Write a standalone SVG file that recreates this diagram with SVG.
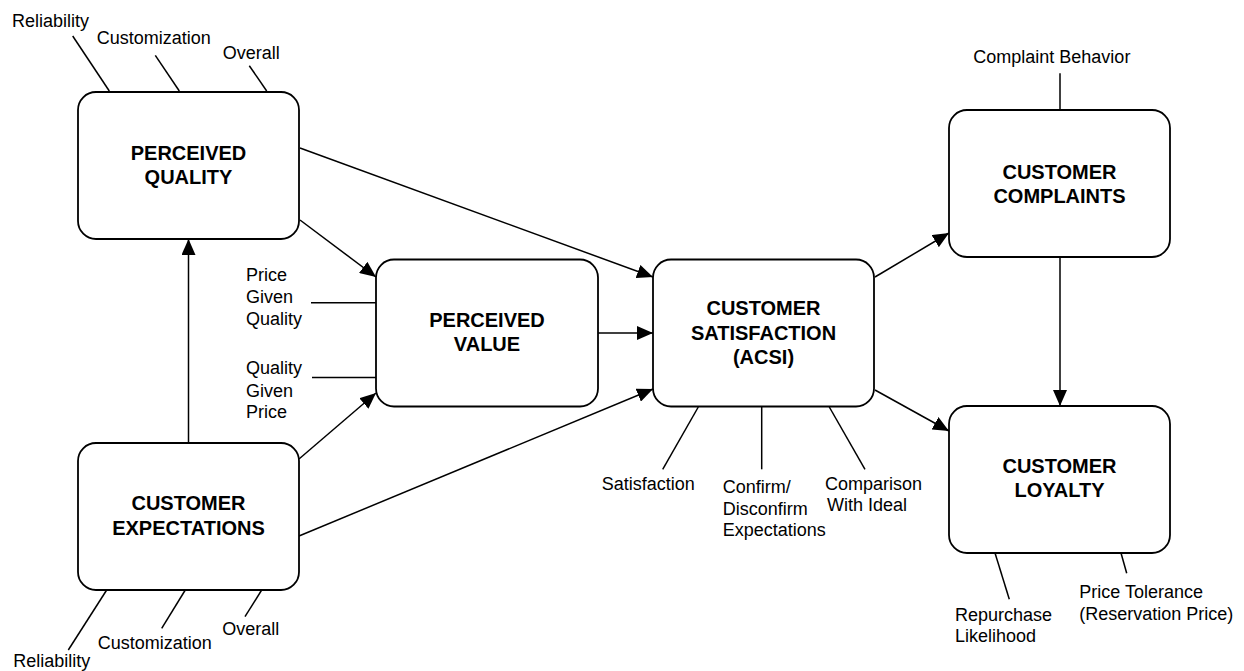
<svg xmlns="http://www.w3.org/2000/svg" width="1244" height="671" viewBox="0 0 1244 671">
<style>
.box{fill:#fff;stroke:#000;stroke-width:1.8}
.ttl{font-family:"Liberation Sans",Arial,sans-serif;font-weight:bold;font-size:20px;text-anchor:middle;fill:#000}
.lbl{font-family:"Liberation Sans",Arial,sans-serif;font-size:18px;fill:#000}
.ln{stroke:#000;stroke-width:1.5;fill:none}
.ar{stroke:#000;stroke-width:1.5;fill:none;marker-end:url(#ah)}
</style>
<defs>
<marker id="ah" markerUnits="userSpaceOnUse" markerWidth="16" markerHeight="14" refX="16" refY="7" orient="auto">
<path d="M0,0 L16,7 L0,14 z" fill="#000"/>
</marker>
</defs>
<rect width="1244" height="671" fill="#fff"/>
<g id="connectors">
<line class="ar" x1="300" y1="148" x2="653" y2="277"/>
<line class="ar" x1="300" y1="220" x2="376" y2="277"/>
<line class="ar" x1="188.5" y1="443" x2="188.5" y2="239"/>
<line class="ar" x1="299" y1="459" x2="376" y2="393"/>
<line class="ar" x1="299" y1="536" x2="653" y2="389"/>
<line class="ar" x1="598" y1="333" x2="653" y2="333"/>
<line class="ar" x1="875" y1="277" x2="949" y2="233"/>
<line class="ar" x1="875" y1="390" x2="949" y2="431"/>
<line class="ar" x1="1060" y1="257" x2="1060" y2="406"/>
</g>
<g id="pq">
<rect class="box" x="78" y="92" width="221" height="147" rx="18"/>
<text class="ttl" x="188.5" y="160">PERCEIVED</text>
<text class="ttl" x="188.5" y="184">QUALITY</text>
<line class="ln" x1="72.7" y1="36" x2="109.3" y2="91"/>
<line class="ln" x1="155.3" y1="55.3" x2="179.3" y2="91"/>
<line class="ln" x1="249.3" y1="65.7" x2="266.7" y2="91"/>
<text class="lbl" x="12" y="27">Reliability</text>
<text class="lbl" x="96.7" y="44.3">Customization</text>
<text class="lbl" x="222.7" y="59.3">Overall</text>
</g>
<g id="pv">
<rect class="box" x="376" y="259.5" width="222" height="147" rx="18"/>
<text class="ttl" x="487" y="327">PERCEIVED</text>
<text class="ttl" x="487" y="351">VALUE</text>
<line class="ln" x1="311" y1="302.7" x2="376" y2="302.7"/>
<line class="ln" x1="312" y1="377.5" x2="376" y2="377.5"/>
<text class="lbl" x="246" y="281">Price</text>
<text class="lbl" x="246" y="302.7">Given</text>
<text class="lbl" x="246" y="325">Quality</text>
<text class="lbl" x="246" y="374.3">Quality</text>
<text class="lbl" x="246" y="396.7">Given</text>
<text class="lbl" x="246" y="418.3">Price</text>
</g>
<g id="ce">
<rect class="box" x="78" y="443" width="221" height="147" rx="18"/>
<text class="ttl" x="188.5" y="510">CUSTOMER</text>
<text class="ttl" x="188.5" y="535">EXPECTATIONS</text>
<line class="ln" x1="106.7" y1="590" x2="68.3" y2="650"/>
<line class="ln" x1="185.3" y1="590" x2="161.7" y2="628.3"/>
<line class="ln" x1="261.7" y1="590" x2="245" y2="616.7"/>
<text class="lbl" x="13.3" y="667.3">Reliability</text>
<text class="lbl" x="97.7" y="649.3">Customization</text>
<text class="lbl" x="222.3" y="635">Overall</text>
</g>
<g id="cs">
<rect class="box" x="653" y="259.5" width="221" height="147" rx="18"/>
<text class="ttl" x="763.5" y="315">CUSTOMER</text>
<text class="ttl" x="763.5" y="339.5">SATISFACTION</text>
<text class="ttl" x="763.5" y="364">(ACSI)</text>
<line class="ln" x1="698.3" y1="407" x2="662.7" y2="469.3"/>
<line class="ln" x1="761.7" y1="407" x2="761.7" y2="469.3"/>
<line class="ln" x1="829.3" y1="407" x2="865" y2="469.3"/>
<text class="lbl" x="601.7" y="490">Satisfaction</text>
<text class="lbl" x="722.7" y="493.3">Confirm/</text>
<text class="lbl" x="722.7" y="514.5">Disconfirm</text>
<text class="lbl" x="722.7" y="535.5">Expectations</text>
<text class="lbl" x="825" y="490">Comparison</text>
<text class="lbl" x="827" y="511">With Ideal</text>
</g>
<g id="cc">
<rect class="box" x="949" y="110" width="221" height="147" rx="18"/>
<text class="ttl" x="1059.5" y="178.5">CUSTOMER</text>
<text class="ttl" x="1059.5" y="202.5">COMPLAINTS</text>
<line class="ln" x1="1060" y1="73.3" x2="1060" y2="110"/>
<text class="lbl" x="973.3" y="62.7">Complaint Behavior</text>
</g>
<g id="cl">
<rect class="box" x="949" y="406" width="221" height="147" rx="18"/>
<text class="ttl" x="1059.5" y="472.5">CUSTOMER</text>
<text class="ttl" x="1059.5" y="497">LOYALTY</text>
<line class="ln" x1="995" y1="553" x2="1009.3" y2="599.3"/>
<line class="ln" x1="1121" y1="553" x2="1126.7" y2="573.3"/>
<text class="lbl" x="955" y="621">Repurchase</text>
<text class="lbl" x="955" y="641.7">Likelihood</text>
<text class="lbl" x="1079.3" y="598.3">Price Tolerance</text>
<text class="lbl" x="1079.3" y="620">(Reservation Price)</text>
</g>
</svg>
